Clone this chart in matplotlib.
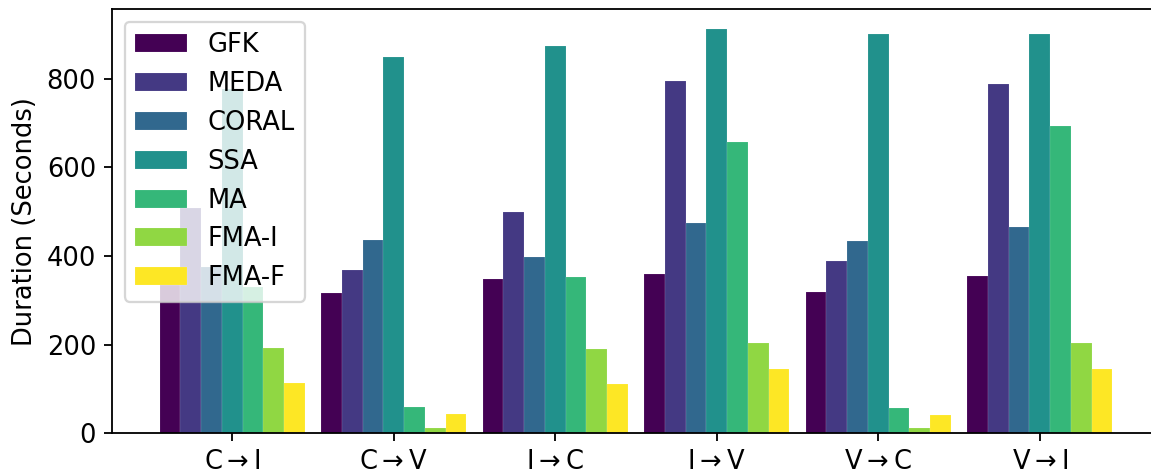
import numpy as np
import matplotlib
matplotlib.use("Agg")
import matplotlib.pyplot as plt

# transfer tasks and methods
tasks = [r"C$\rightarrow$I", r"C$\rightarrow$V", r"I$\rightarrow$C",
         r"I$\rightarrow$V", r"V$\rightarrow$C", r"V$\rightarrow$I"]
methods = ["GFK", "MEDA", "CORAL", "SSA", "MA", "FMA-I", "FMA-F"]

# run time in seconds, one list per method (same order as tasks)
gfk = [335, 316, 348, 360, 319, 356]
meda = [509, 369, 500, 794, 388, 789]
coral = [376, 436, 397, 475, 435, 466]
ssa = [776, 850, 875, 912, 901, 901]
ma = [331, 60, 352, 657, 56, 694]
fma_i = [192, 13, 191, 203, 13, 203]
fma_f = [113, 43, 112, 146, 42, 146]

durations = [gfk, meda, coral, ssa, ma, fma_i, fma_f]

plt.rcParams["font.size"] = 11.3

dpi = 164
fig = plt.figure(figsize=(1151 / dpi, 472 / dpi), dpi=dpi)
ax = fig.add_axes([0.0973, 0.082, 0.9105, 0.899])

x = np.arange(len(tasks))
width = 0.9 / len(methods)
colors = plt.cm.viridis(np.linspace(0, 1, len(methods)))

for i, (name, vals) in enumerate(zip(methods, durations)):
    ax.bar(x + (i - 3) * width, vals, width, label=name, color=colors[i],
           edgecolor="white", linewidth=0.05)

ax.set_xticks(x)
ax.set_xticklabels(tasks)
ax.set_ylabel("Duration (Seconds)")
ax.legend(loc="upper left")

fig.savefig("out.png", dpi=dpi)
